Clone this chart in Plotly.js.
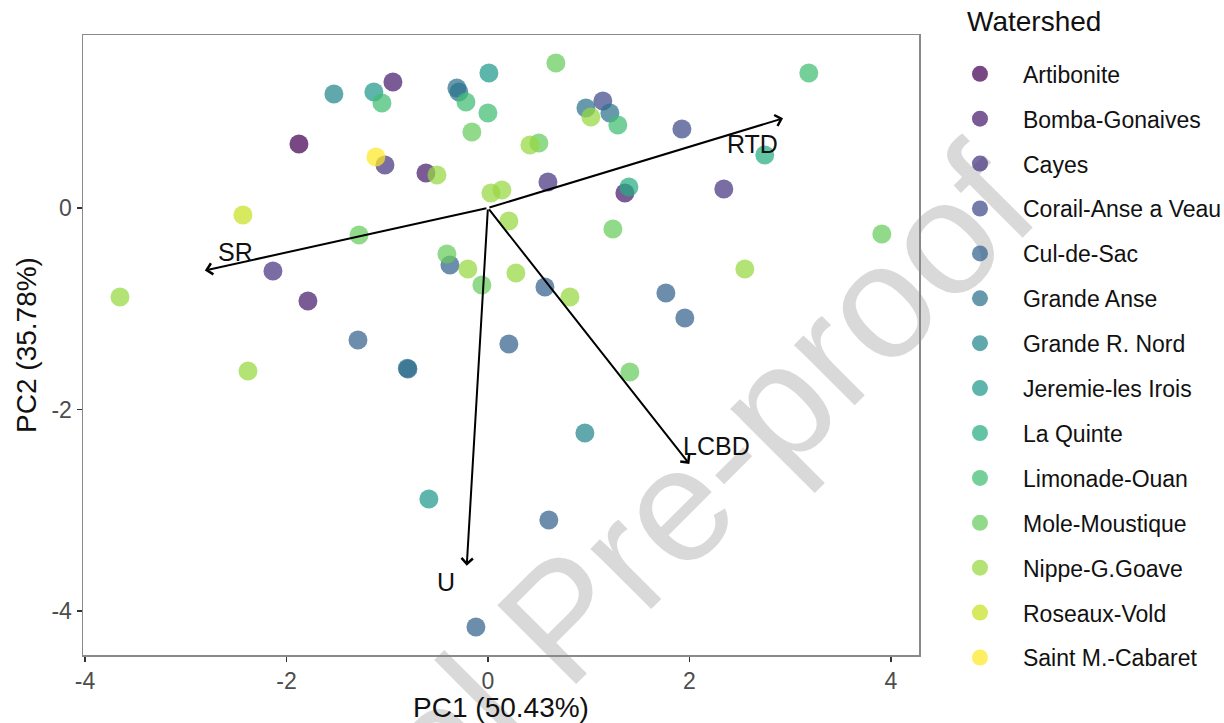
<!DOCTYPE html>
<html>
<head>
<meta charset="utf-8">
<script src="https://cdn.plot.ly/plotly-3.0.1.min.js"></script>
<style>html,body{margin:0;padding:0;background:#fff;}#chart{width:1224px;height:723px;}</style>
</head>
<body>
<div id="chart"></div>
<script>
// Watershed categories (legend order)
const watersheds = ["Artibonite","Bomba-Gonaives","Cayes","Corail-Anse a Veau","Cul-de-Sac","Grande Anse","Grande R. Nord","Jeremie-les Irois","La Quinte","Limonade-Ouan","Mole-Moustique","Nippe-G.Goave","Roseaux-Vold","Saint M.-Cabaret"];
const palette = ["#440154","#481c6e","#453581","#3e4a89","#34618d","#2c728e","#24868e","#1f998a","#25ac82","#40bd72","#67cc5c","#95d840","#c8e020","#fde725"];

// Site scores (PC1, PC2) and their watershed
const siteWatershed = [
 "Artibonite",
 "Bomba-Gonaives","Bomba-Gonaives","Bomba-Gonaives","Bomba-Gonaives",
 "Cayes","Cayes","Cayes","Cayes",
 "Corail-Anse a Veau","Corail-Anse a Veau",
 "Cul-de-Sac","Cul-de-Sac","Cul-de-Sac","Cul-de-Sac","Cul-de-Sac","Cul-de-Sac","Cul-de-Sac","Cul-de-Sac","Cul-de-Sac",
 "Grande Anse","Grande Anse","Grande Anse","Grande Anse","Grande Anse",
 "Grande R. Nord","Grande R. Nord",
 "Jeremie-les Irois","Jeremie-les Irois","Jeremie-les Irois",
 "La Quinte","La Quinte",
 "Limonade-Ouan","Limonade-Ouan","Limonade-Ouan","Limonade-Ouan","Limonade-Ouan",
 "Mole-Moustique","Mole-Moustique","Mole-Moustique","Mole-Moustique","Mole-Moustique","Mole-Moustique","Mole-Moustique","Mole-Moustique","Mole-Moustique",
 "Nippe-G.Goave","Nippe-G.Goave","Nippe-G.Goave","Nippe-G.Goave","Nippe-G.Goave","Nippe-G.Goave","Nippe-G.Goave","Nippe-G.Goave","Nippe-G.Goave","Nippe-G.Goave","Nippe-G.Goave","Nippe-G.Goave",
 "Roseaux-Vold",
 "Saint M.-Cabaret"
];
const pc1 = [
 -1.876,
 -0.943,-0.615,1.360,-1.787,
 -1.022,0.596,2.342,-2.134,
 1.141,1.926,
 -0.377,0.566,1.767,1.955,0.208,-1.290,-0.794,0.605,-0.119,
 -0.308,-0.288,0.973,1.211,-0.800,
 -1.529,0.963,
 -1.132,0.010,-0.586,
 1.400,2.749,
 -1.052,-0.218,0.000,1.290,3.186,
 0.675,-0.159,0.506,1.241,3.911,-0.407,-0.060,1.409,-1.280,
 -0.506,0.417,0.030,0.139,0.208,-0.199,0.278,0.814,2.551,-3.653,-2.382,1.022,
 -2.432,
 -1.112
];
const pc2 = [
 0.635,
 1.251,0.347,0.149,-0.923,
 0.427,0.258,0.189,-0.625,
 1.062,0.784,
 -0.566,-0.784,-0.844,-1.092,-1.350,-1.310,-1.598,-3.097,-4.159,
 1.191,1.151,0.993,0.943,-1.590,
 1.132,-2.233,
 1.151,1.340,-2.888,
 0.208,0.526,
 1.042,1.052,0.943,0.824,1.340,
 1.439,0.754,0.645,-0.208,-0.258,-0.457,-0.764,-1.628,-0.268,
 0.328,0.625,0.149,0.179,-0.129,-0.605,-0.645,-0.883,-0.605,-0.883,-1.618,0.903,
 -0.069,
 0.506
];

// Variable loadings (arrow tips) and label positions
const loadingNames = ["SR","RTD","LCBD","U"];
const loadingX = [-2.81, 2.93, 2.00, -0.21];
const loadingY = [-0.62, 0.89, -2.54, -3.55];
const labelX = [-2.51, 2.63, 2.27, -0.42];
const labelY = [-0.44, 0.64, -2.36, -3.71];

const FONT = "Liberation Sans, Arial, Helvetica, sans-serif";

const traces = watersheds.map((w, i) => {
  const xs = [], ys = [];
  siteWatershed.forEach((s, k) => { if (s === w) { xs.push(pc1[k]); ys.push(pc2[k]); } });
  return {
    type: "scatter", mode: "markers", name: w, legendgroup: w,
    x: xs, y: ys,
    marker: {size: 19, color: palette[i], opacity: 0.72, line: {width: 0}},
    hoverinfo: "name"
  };
});

const annotations = [];
loadingNames.forEach((n, i) => {
  annotations.push({
    x: loadingX[i], y: loadingY[i], xref: "x", yref: "y",
    ax: 0, ay: 0, axref: "x", ayref: "y",
    text: "", showarrow: true, arrowhead: 4, arrowsize: 1.1, arrowwidth: 2, arrowcolor: "#000", standoff: 0
  });
  annotations.push({
    x: labelX[i], y: labelY[i], xref: "x", yref: "y",
    text: n, showarrow: false, font: {family: FONT, size: 25, color: "#111"}
  });
});
annotations.push({
  x: 1.0545, y: 1.022, xref: "paper", yref: "paper", xanchor: "left", yanchor: "middle",
  text: "Watershed", showarrow: false, font: {family: FONT, size: 28, color: "#111"}
});

const layout = {
  width: 1224, height: 723,
  margin: {l: 83, r: 305, t: 35, b: 68, autoexpand: false},
  paper_bgcolor: "#fff", plot_bgcolor: "#fff",
  font: {family: FONT},
  xaxis: {
    range: [-4.02, 4.28], tickvals: [-4,-2,0,2,4], ticktext: ["-4","-2","0","2","4"],
    ticks: "outside", ticklen: 5, tickwidth: 1.5, tickcolor: "#333",
    tickfont: {family: FONT, size: 23, color: "#4d4d4d"},
    showline: true, mirror: true, linecolor: "#8a8a8a", linewidth: 1.5,
    showgrid: false, zeroline: false,
    title: {text: "PC1 (50.43%)", font: {family: FONT, size: 28, color: "#111"}, standoff: 4}
  },
  yaxis: {
    range: [-4.437, 1.717], tickvals: [-4,-2,0], ticktext: ["-4","-2","0"],
    ticks: "outside", ticklen: 5, tickwidth: 1.5, tickcolor: "#333",
    tickfont: {family: FONT, size: 23, color: "#4d4d4d"},
    showline: true, mirror: true, linecolor: "#8a8a8a", linewidth: 1.5,
    showgrid: false, zeroline: false,
    title: {text: "PC2 (35.78%)", font: {family: FONT, size: 28, color: "#111"}, standoff: 6}
  },
  legend: {
    x: 1.0215, xanchor: "left", y: 0.972, yanchor: "top",
    font: {family: FONT, size: 23, color: "#111"},
    tracegroupgap: 12, itemsizing: "trace", itemwidth: 76, maxheight: 700,
    bgcolor: "rgba(0,0,0,0)"
  },
  shapes: [{
    type: "rect", xref: "paper", yref: "paper", x0: 0.51, x1: 0.61, y0: 0.026, y1: 0.126,
    line: {width: 0}, fillcolor: "rgba(0,0,0,0)", layer: "below",
    label: {text: "Journal Pre-proof", textangle: -45, textposition: "middle center",
            font: {family: FONT, size: 162, color: "#d9d9d9"}}
  }],
  annotations: annotations,
  showlegend: true
};

Plotly.newPlot("chart", traces, layout, {staticPlot: true, displayModeBar: false});
</script>
</body>
</html>
